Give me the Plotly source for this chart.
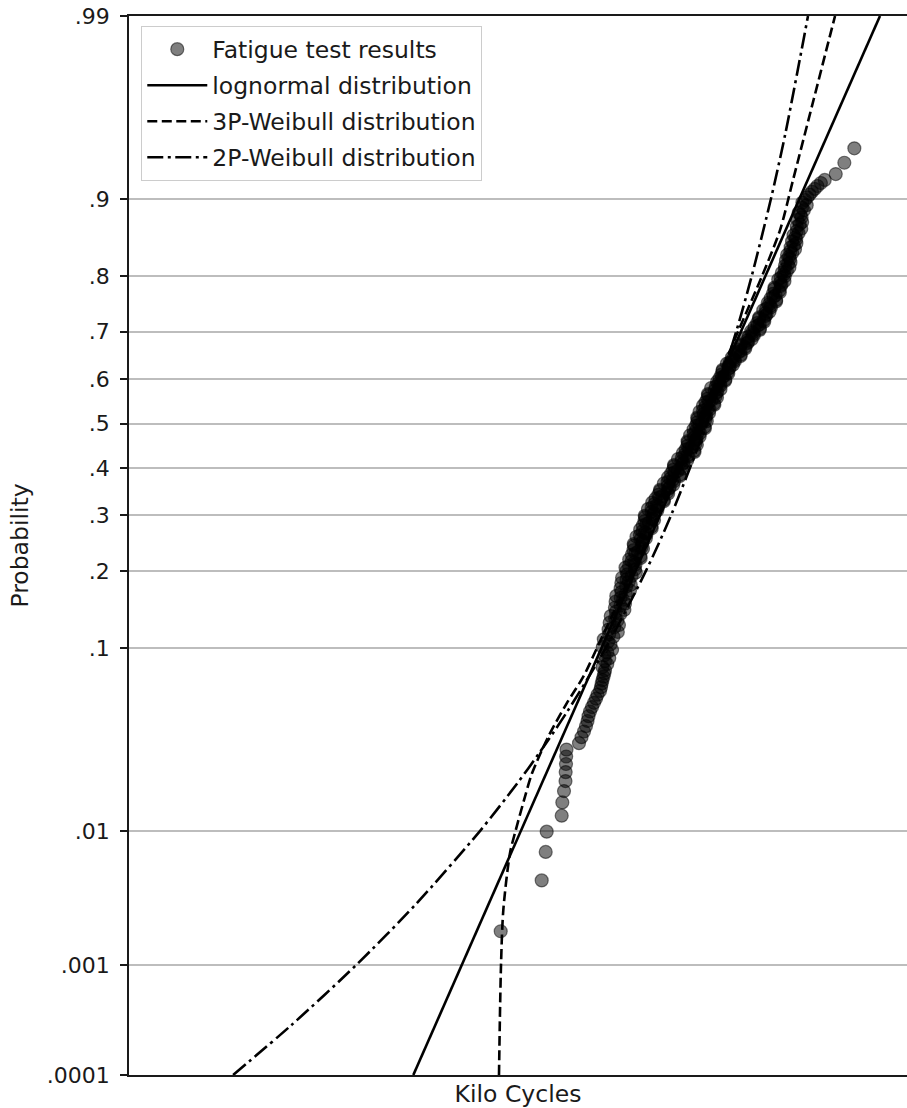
import math
import plotly.graph_objects as go
from statistics import NormalDist

_nd = NormalDist()


def probit(p):
    """Normal-probability scale transform used by the y axis."""
    return _nd.inv_cdf(p)


# ---------------- data: plotting probability and life in kilo cycles ----------------
fatigue_prob = [
    # individual lowest results
    0.001875, 0.004553, 0.007231, 0.009909, 0.012587, 0.015265, 0.017943, 0.020621, 0.023299, 0.025977,
    0.028656, 0.031334, 0.034012, 0.03669, 0.039368, 0.042046, 0.044724, 0.047402, 0.05008, 0.052758,
    0.055436, 0.058114, 0.060792, 0.06347, 0.066148, 0.068826, 0.071504, 0.074182, 0.07686, 0.079538,
    # dense lower band
    0.082218, 0.084896, 0.087574, 0.090252, 0.09293, 0.095608, 0.098286, 0.100964, 0.103642, 0.10632,
    0.108999, 0.111677, 0.114355, 0.117033, 0.119711, 0.122389, 0.125067, 0.127745, 0.130423, 0.133101,
    0.13578, 0.138458, 0.141136, 0.143814, 0.146492, 0.14917, 0.151848, 0.154526, 0.157204, 0.159882,
    0.162561, 0.165239, 0.167917, 0.170595, 0.173273, 0.175951, 0.178629, 0.181307, 0.183985, 0.186663,
    0.189342, 0.19202, 0.194698, 0.197376, 0.200054,
    # central band (odd ranks)
    0.20541, 0.210766, 0.216122, 0.221479, 0.226835, 0.232191, 0.237547, 0.242904, 0.24826, 0.253616,
    0.258972, 0.264329, 0.269685, 0.275041, 0.280397, 0.285754, 0.29111, 0.296466, 0.301822, 0.307178,
    0.312535, 0.317891, 0.323247, 0.328603, 0.33396, 0.339316, 0.344672, 0.350028, 0.355384, 0.360741,
    0.366097, 0.371453, 0.376809, 0.382166, 0.387522, 0.392878, 0.398234, 0.403591, 0.408947, 0.414303,
    0.419659, 0.425016, 0.430372, 0.435728, 0.441084, 0.446441, 0.451797, 0.457153, 0.462509, 0.467866,
    0.473222, 0.478578, 0.483934, 0.48929, 0.494647, 0.500003, 0.505359, 0.510715, 0.516072, 0.521428,
    0.526784, 0.53214, 0.537497, 0.542853, 0.548209, 0.553565, 0.558922, 0.564278, 0.569634, 0.57499,
    0.580347, 0.585703, 0.591059, 0.596415, 0.601772, 0.607128, 0.612484, 0.61784, 0.623197, 0.628553,
    0.633909, 0.639265, 0.644622, 0.649978, 0.655334, 0.66069, 0.666047, 0.671403, 0.676759, 0.682115,
    0.687472, 0.692828, 0.698184, 0.70354, 0.708897, 0.714253, 0.719609, 0.724965, 0.730322, 0.735678,
    0.741034, 0.74639, 0.751747, 0.757103, 0.762459, 0.767815, 0.773172, 0.778528, 0.783884, 0.78924,
    0.794597,
    # central band (even ranks)
    0.202732, 0.208088, 0.213444, 0.218801, 0.224157, 0.229513, 0.234869, 0.240226, 0.245582, 0.250938,
    0.256294, 0.26165, 0.267007, 0.272363, 0.277719, 0.283075, 0.288432, 0.293788, 0.299144, 0.3045,
    0.309857, 0.315213, 0.320569, 0.325925, 0.331281, 0.336638, 0.341994, 0.34735, 0.352706, 0.358063,
    0.363419, 0.368775, 0.374131, 0.379488, 0.384844, 0.3902, 0.395556, 0.400912, 0.406269, 0.411625,
    0.416981, 0.422337, 0.427694, 0.43305, 0.438406, 0.443762, 0.449119, 0.454475, 0.459831, 0.465187,
    0.470543, 0.4759, 0.481256, 0.486612, 0.491968, 0.497325, 0.502681, 0.508037, 0.513393, 0.51875,
    0.524106, 0.529462, 0.534818, 0.540174, 0.545531, 0.550887, 0.556243, 0.561599, 0.566956, 0.572312,
    0.577668, 0.583024, 0.588381, 0.593737, 0.599093, 0.604449, 0.609805, 0.615162, 0.620518, 0.625874,
    0.63123, 0.636587, 0.641943, 0.647299, 0.652655, 0.658012, 0.663368, 0.668724, 0.67408, 0.679436,
    0.684793, 0.690149, 0.695505, 0.700861, 0.706218, 0.711574, 0.71693, 0.722286, 0.727643, 0.732999,
    0.738355, 0.743711, 0.749067, 0.754424, 0.75978, 0.765136, 0.770492, 0.775849, 0.781205, 0.786561,
    0.791917,
    # upper band
    0.797271, 0.799949, 0.802627, 0.805305, 0.807983, 0.810661, 0.813339, 0.816017, 0.818695, 0.821374,
    0.824052, 0.82673, 0.829408, 0.832086, 0.834764, 0.837442, 0.84012, 0.842798, 0.845476, 0.848155,
    0.850833, 0.853511, 0.856189, 0.858867, 0.861545, 0.864223, 0.866901, 0.869579, 0.872257, 0.874936,
    0.877614, 0.880292, 0.88297, 0.885648, 0.888326, 0.891004, 0.893682, 0.89636, 0.899038, 0.901717,
    0.904395, 0.907073, 0.909751, 0.912429, 0.915107, 0.917785,
    # highest individual results
    0.9228, 0.9317, 0.9419,
]

fatigue_kc = [
    90.27, 115.06, 117.82, 118.52, 129.52, 129.99, 131.30, 132.47, 132.6, 132.86,
    133.0, 133.26, 143.49, 145.63, 147.80, 149.56, 150.90, 151.79, 153.14, 154.97,
    156.82, 158.68, 160.10, 162.48, 163.45, 164.13, 164.91, 165.89, 166.68, 167.37,

    164.92, 169.63, 167.36, 171.64, 166.90, 169.65, 174.52, 165.15, 172.83, 170.45,
    166.17, 175.96, 171.50, 180.57, 170.89, 176.79, 181.78, 172.05, 180.12, 177.69,
    173.15, 183.21, 178.46, 187.71, 177.50, 183.40, 188.40, 178.16, 186.29, 183.63,
    178.90, 189.35, 184.45, 194.06, 183.53, 189.72, 194.92, 184.35, 192.80, 190.08,
    185.17, 195.98, 190.93, 200.87, 189.95,

    188.92, 200.55, 195.95, 206.78, 196.16, 203.38, 209.58, 198.85, 208.61, 206.27,
    201.58, 214.00, 209.12, 220.69, 209.36, 217.06, 223.73, 212.25, 222.74, 220.53,
    215.79, 229.36, 224.44, 237.17, 225.67, 235.01, 243.29, 231.86, 244.34, 242.40,
    237.12, 252.03, 246.56, 260.51, 247.44, 256.86, 265.02, 252.05, 265.22, 263.03,
    257.82, 274.48, 269.04, 284.38, 269.79, 279.72, 288.32, 273.53, 286.98, 283.73,
    276.97, 293.76, 286.82, 302.41, 286.62, 296.86, 305.69, 289.75, 303.69, 300.00,
    292.87, 310.62, 303.27, 319.77, 303.25, 314.72, 324.76, 308.38, 323.91, 320.62,
    313.68, 331.66, 327.38, 341.10, 329.74, 339.11, 347.24, 335.58, 348.63, 347.92,
    344.40, 361.20, 357.49, 373.39, 362.01, 373.44, 384.05, 372.84, 388.44, 388.24,
    384.82, 404.19, 400.54, 418.28, 405.46, 418.18, 429.61, 416.38, 433.09, 432.16,
    427.04, 447.18, 441.85, 460.83, 445.98, 459.39, 471.19, 456.16, 473.77, 472.14,
    466.60,

    199.80, 192.91, 198.84, 193.12, 206.23, 200.34, 198.08, 207.80, 198.32, 209.29,
    213.17, 205.84, 212.18, 206.10, 220.10, 213.83, 211.44, 221.82, 211.73, 223.61,
    228.06, 220.50, 227.57, 221.34, 236.89, 230.96, 229.40, 241.80, 231.77, 245.54,
    250.63, 242.31, 250.02, 243.14, 259.97, 252.86, 250.32, 263.07, 251.76, 266.48,
    272.25, 263.67, 272.57, 265.38, 283.63, 275.51, 272.48, 285.86, 272.82, 287.90,
    293.04, 282.74, 291.12, 282.55, 301.46, 292.54, 289.03, 302.95, 288.84, 304.53,
    309.87, 298.97, 307.85, 298.77, 318.86, 309.83, 306.74, 322.15, 307.76, 325.14,
    331.53, 322.28, 330.21, 324.64, 341.00, 335.09, 333.34, 345.66, 335.74, 350.45,
    357.06, 350.49, 360.09, 354.91, 373.79, 368.42, 367.85, 383.16, 373.53, 390.72,
    398.71, 391.90, 403.21, 397.63, 418.71, 412.67, 411.77, 428.26, 416.80, 435.33,
    443.13, 434.32, 445.43, 438.38, 460.94, 453.59, 451.95, 469.41, 456.32, 475.92,
    484.23,

    473.44, 485.18, 482.37, 476.74, 491.15, 485.41, 498.54, 485.53, 494.30, 501.68,
    488.59, 500.31, 497.40, 491.70, 506.86, 501.30, 515.32, 502.16, 511.60, 519.68,
    506.44, 519.03, 516.39, 510.73, 526.46, 520.79, 534.91, 520.73, 529.88, 537.64,
    523.42, 535.76, 532.44, 526.68, 543.10, 537.19, 552.32, 538.32, 547.01, 554.49,
    561.96, 569.79, 579.09, 588.55, 600.67, 614.45,

    655.88, 690.12, 732.21,
]

lognormal_prob = [0.0001, 0.5, 0.99]
lognormal_kc = [53.81, 294.4, 852.2]

weibull3p_prob = [0.0001, 0.001, 0.00274, 0.00711, 0.01, 0.01657, 0.02292, 0.0369, 0.0551, 0.0742,
                  0.103, 0.2, 0.3, 0.5, 0.7, 0.8, 0.8653, 0.9177, 0.9676, 0.99]
weibull3p_kc = [89.36, 90.43, 91.67, 95.38, 98.53, 104.23, 108.65, 119.65, 133.42, 147.19,
                160.86, 197.54, 229.05, 291.96, 367.78, 423.93, 471.6, 509.3, 575.06, 653.1]

weibull2p_prob = [0.0001, 0.0003, 0.001, 0.003, 0.01, 0.02, 0.03, 0.05, 0.1, 0.2, 0.3, 0.5,
                  0.7, 0.8, 0.9, 0.95, 0.99]
weibull2p_kc = [18.52, 26.23, 38.41, 54.43, 79.82, 99.58, 113.42, 133.80, 168.08, 213.22, 247.39,
                305.38, 363.79, 398.84, 446.79, 485.65, 556.58]

tick_probs = [0.0001, 0.001, 0.01, 0.1, 0.2, 0.3, 0.4, 0.5, 0.6, 0.7, 0.8, 0.9, 0.99]
tick_labels = ['.0001', '.001', '.01', '.1', '.2', '.3', '.4', '.5', '.6', '.7', '.8', '.9', '.99']

x_range_kc = [10, 1000]
y_range_prob = [0.0001, 0.99]

assert len(fatigue_prob) == len(fatigue_kc)

# ---------------- figure ----------------
FONT = 'DejaVu Sans'
INK = '#1a1a1a'
fig = go.Figure()

fig.add_trace(go.Scatter(
    x=fatigue_kc, y=[probit(p) for p in fatigue_prob],
    mode='markers', name='Fatigue test results', legendgroup='a',
    marker=dict(size=13, color='rgba(0,0,0,0.5)',
                line=dict(color='rgba(0,0,0,0.5)', width=1.2)),
))
fig.add_trace(go.Scatter(
    x=lognormal_kc, y=[probit(p) for p in lognormal_prob],
    mode='lines', name='lognormal distribution', legendgroup='b',
    line=dict(color='black', width=2.6),
))
fig.add_trace(go.Scatter(
    x=weibull3p_kc, y=[probit(p) for p in weibull3p_prob],
    mode='lines', name='3P-Weibull distribution', legendgroup='c',
    line=dict(color='black', width=2.6, dash='10px,4.5px', shape='spline', smoothing=0.8),
))
fig.add_trace(go.Scatter(
    x=weibull2p_kc, y=[probit(p) for p in weibull2p_prob],
    mode='lines', name='2P-Weibull distribution', legendgroup='d',
    line=dict(color='black', width=2.6, dash='16px,4.5px,3px,4.5px', shape='spline', smoothing=0.8),
))

fig.update_layout(
    width=907, height=1108,
    margin=dict(l=129, r=0, t=16, b=33, pad=0),
    paper_bgcolor='white', plot_bgcolor='white',
    font=dict(family=FONT, size=22, color=INK),
    showlegend=True,
    legend=dict(
        x=0.0154, y=0.9905, xanchor='left', yanchor='top',
        bgcolor='rgba(255,255,255,0.85)', bordercolor='#cccccc', borderwidth=1.3,
        font=dict(family=FONT, size=23.5, color=INK),
        tracegroupgap=2.5, itemwidth=60,
    ),
    xaxis=dict(
        type='log', range=[math.log10(x_range_kc[0]), math.log10(x_range_kc[1])],
        showticklabels=False, ticks='', showgrid=False, zeroline=False,
        showline=True, linecolor=INK, linewidth=1.7, mirror=True,
        title=dict(text='Kilo Cycles', standoff=11, font=dict(family=FONT, size=23.5, color=INK)),
        automargin=False,
    ),
    yaxis=dict(
        range=[probit(y_range_prob[0]), probit(y_range_prob[1])],
        tickmode='array', tickvals=[probit(p) for p in tick_probs], ticktext=tick_labels,
        ticks='outside', ticklen=7, tickwidth=1.7, tickcolor=INK, ticklabelstandoff=6,
        showgrid=True, gridcolor='#bdbdbd', gridwidth=1.7, zeroline=False,
        showline=True, linecolor=INK, linewidth=1.7, mirror=False,
        tickfont=dict(family=FONT, size=22, color=INK),
        title=dict(text='Probability', standoff=12, font=dict(family=FONT, size=23.5, color=INK)),
        automargin=False,
    ),
)

fig.write_html('out.html')
